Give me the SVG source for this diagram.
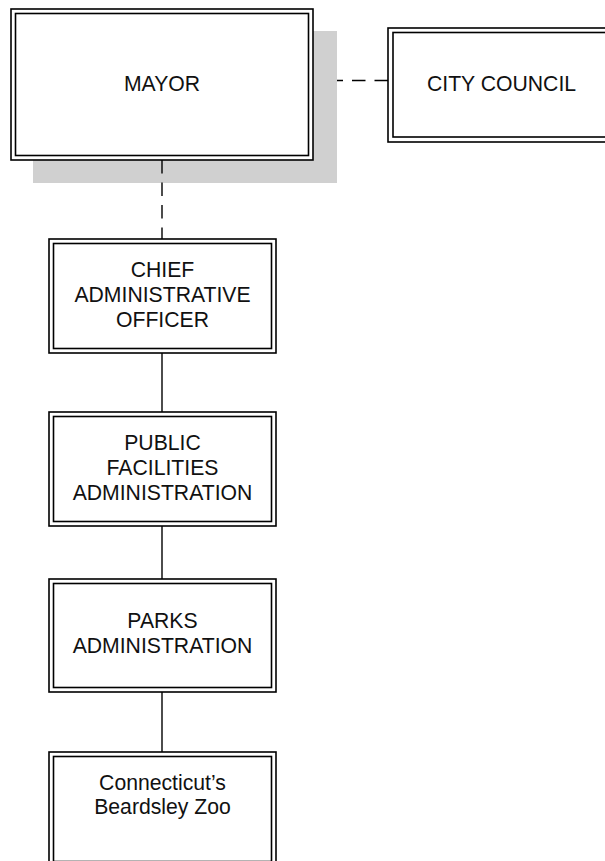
<svg xmlns="http://www.w3.org/2000/svg" width="605" height="861" viewBox="0 0 605 861">
<style>
.o{fill:#fff;stroke:#000;stroke-width:1.6}
.i{fill:none;stroke:#000;stroke-width:1.6}
.t{font-family:"Liberation Sans",Arial,sans-serif;font-size:21.2px;fill:#111;text-anchor:middle}
.c{stroke:#000;stroke-width:1.4;fill:none}
.d{stroke-dasharray:13.5 9}
</style>
<rect width="605" height="861" fill="#fff"/>
<g id="mayor">
<rect x="33" y="31" width="304" height="152" fill="#d0d0d0"/>
<rect class="o" x="11" y="9" width="302" height="151"/>
<rect class="i" x="15.5" y="13.5" width="293" height="142"/>
<text class="t" x="162" y="91">MAYOR</text>
</g>
<g id="council">
<rect class="o" x="388" y="28" width="228" height="114"/>
<rect class="i" x="393" y="32.5" width="230" height="104.5"/>
<text class="t" x="501.5" y="91">CITY COUNCIL</text>
</g>
<g id="cao">
<rect class="o" x="49" y="239" width="227" height="114"/>
<rect class="i" x="53.5" y="243.5" width="218" height="105"/>
<text class="t" x="162.5" y="277">CHIEF</text>
<text class="t" x="162.5" y="302">ADMINISTRATIVE</text>
<text class="t" x="162.5" y="327">OFFICER</text>
</g>
<g id="pfa">
<rect class="o" x="49" y="412" width="227" height="114"/>
<rect class="i" x="53.5" y="416.5" width="218" height="105"/>
<text class="t" x="162.5" y="450">PUBLIC</text>
<text class="t" x="162.5" y="475">FACILITIES</text>
<text class="t" x="162.5" y="500">ADMINISTRATION</text>
</g>
<g id="parks">
<rect class="o" x="49" y="579" width="227" height="113"/>
<rect class="i" x="53.5" y="583.5" width="218" height="104"/>
<text class="t" x="162.5" y="628">PARKS</text>
<text class="t" x="162.5" y="653">ADMINISTRATION</text>
</g>
<g id="zoo">
<rect class="o" x="49" y="752" width="227" height="114"/>
<rect class="i" x="53.5" y="756.5" width="218" height="105"/>
<text class="t" x="162.5" y="789.5">Connecticut’s</text>
<text class="t" x="162.5" y="814">Beardsley Zoo</text>
</g>
<g id="connectors">
<line class="c d" x1="388" y1="80.5" x2="337" y2="80.5"/>
<line class="c d" x1="162" y1="160" x2="162" y2="239"/>
<line class="c" x1="162" y1="353" x2="162" y2="412"/>
<line class="c" x1="162" y1="526" x2="162" y2="579"/>
<line class="c" x1="162" y1="692" x2="162" y2="752"/>
</g>
</svg>
